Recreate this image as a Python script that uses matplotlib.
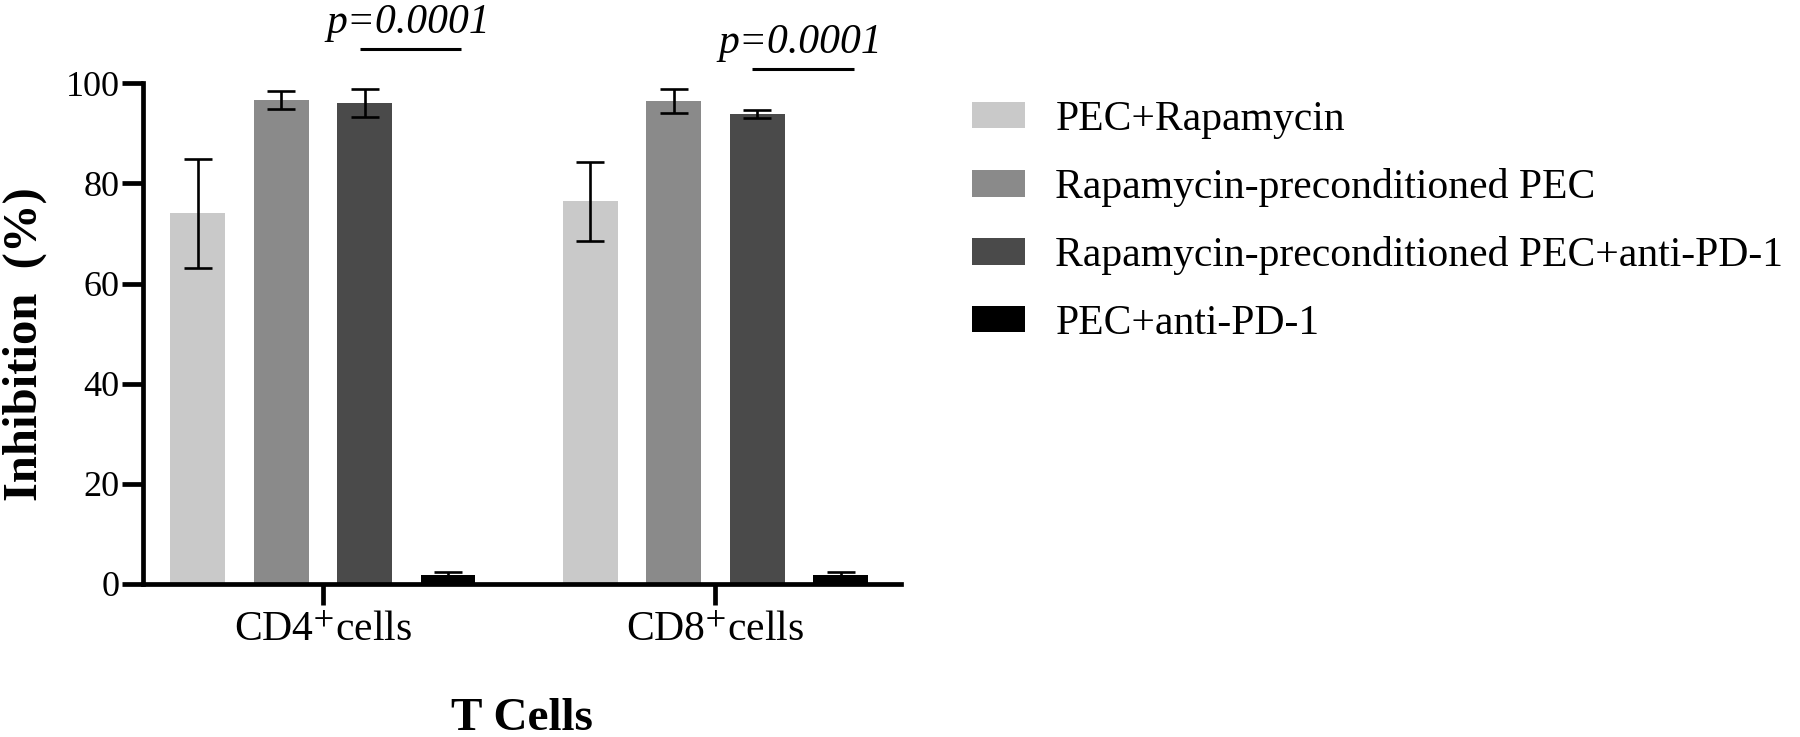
import matplotlib
matplotlib.use('Agg')
import matplotlib.pyplot as plt
import numpy as np

plt.rcParams['font.family'] = ['Liberation Serif', 'DejaVu Serif']
plt.rcParams['mathtext.fontset'] = 'stix'

# data (mean and error, % inhibition)
cell_types = ['CD4$^{+}$cells', 'CD8$^{+}$cells']
treatments = ['PEC+Rapamycin', 'Rapamycin-preconditioned PEC',
              'Rapamycin-preconditioned PEC+anti-PD-1', 'PEC+anti-PD-1']
pec_rapa = [74.0, 76.4]
pec_rapa_err = [10.8, 7.8]
rapa_pec = [96.7, 96.5]
rapa_pec_err = [1.75, 2.4]
rapa_pec_pd1 = [96.1, 93.9]
rapa_pec_pd1_err = [2.75, 0.8]
pec_pd1 = [1.8, 1.8]
pec_pd1_err = [0.5, 0.5]
colors = ['#c9c9c9', '#8a8a8a', '#4a4a4a', '#000000']

p_labels = ['p=0.0001', 'p=0.0001']
p_heights = [106.85, 102.9]

means = [pec_rapa, rapa_pec, rapa_pec_pd1, pec_pd1]
errs = [pec_rapa_err, rapa_pec_err, rapa_pec_pd1_err, pec_pd1_err]

fig = plt.figure(figsize=(18, 7.37), dpi=100)
ax = fig.add_axes([143 / 1800, 1 - 584 / 737, 758 / 1800, 500.7 / 737])

group_x = np.array([0, 4.706])
width = 0.656
handles = []
for i in range(4):
    x = group_x + (i - 1.5)
    b = ax.bar(x, means[i], width, color=colors[i], linewidth=0, zorder=2)
    handles.append(b)
    ax.errorbar(x, means[i], yerr=errs[i], fmt='none', ecolor='black',
                elinewidth=1.9, capsize=9.8, capthick=1.9, zorder=3)

# significance bars between groups 3 and 4
for gx, h, lab in zip(group_x, p_heights, p_labels):
    ax.plot([gx + 0.44, gx + 1.66], [h, h], color='black', lw=2.2,
            clip_on=False, solid_capstyle='butt')
    ax.text(gx + 1.02, h + 3.2, lab, ha='center', va='baseline',
            fontsize=30, fontstyle='italic')

ax.set_xlim(-2.157, 6.93)
ax.set_ylim(0, 100)
ax.set_yticks([0, 20, 40, 60, 80, 100])
ax.set_xticks(group_x)
ax.set_xticklabels(cell_types, fontsize=30)
ax.tick_params(axis='y', labelsize=26, length=15, width=3.4, pad=2)
ax.tick_params(axis='x', length=15, width=3.4, pad=5)
for s in ['top', 'right']:
    ax.spines[s].set_visible(False)
for s in ['left', 'bottom']:
    ax.spines[s].set_linewidth(3.4)

ax.set_ylabel('Inhibition  (%)', fontsize=35, fontweight='bold')
ax.yaxis.set_label_coords(-0.127, 0.479)
ax.set_xlabel('T Cells', fontsize=34, fontweight='bold')
ax.xaxis.set_label_coords(0.5, -0.2277)

ax.legend(handles, treatments, loc='upper left',
          bbox_to_anchor=(971.7 / 1800, 1 - 100.3 / 737),
          bbox_transform=fig.transFigure, frameon=False, fontsize=30,
          handlelength=1.27, handleheight=0.6, handletextpad=0.74,
          labelspacing=0.70, borderaxespad=0, borderpad=0)

fig.savefig('out.png', dpi=100)
